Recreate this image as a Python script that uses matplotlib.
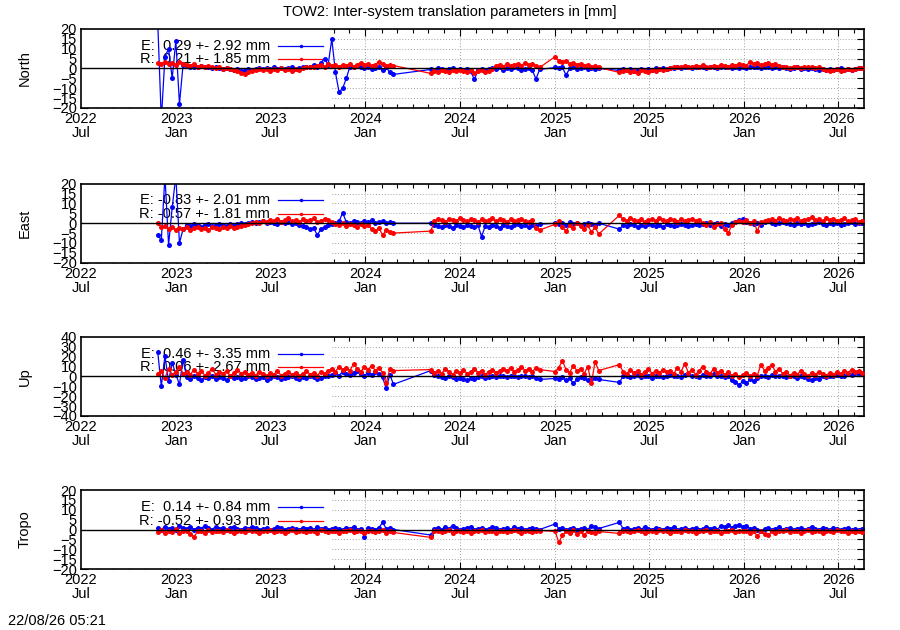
import numpy as np
import matplotlib
matplotlib.use('Agg')
import matplotlib.pyplot as plt
import matplotlib.dates as mdates
from matplotlib.patches import Rectangle

plt.rcParams['font.family'] = ['Liberation Sans', 'DejaVu Sans']
plt.rcParams['font.size'] = 10.5

# 1. Data: weekly readings per observation period (gnuplot joins across gaps)
period_starts = ['2022-11-26', '2024-05-06', '2025-01-01', '2025-05-05']
period_weeks = [66, 31, 13, 68]

north_e = [
    24, -26, 6, 10, -5, 14, -18, 2,
    1.5, 0.5, 1, 0.5, 1.5, 1, 0.5, 0,
    0.5, 0, -0.5, 0, -0.5, -1, -0.5,
    -1.5, -1, -0.5, -1, -0.5,
    0, -0.5, 0, -0.5, 0.5, -0.5, 0, -0.5, 0, 0.5, -0.5, 0, 0.5,
    1, 0.5, 2, 1, 3, 5, 2, 15, -2, -12,
    -10, -5, 1, 0.5, 1.5, 1, 0, 0.5, -0.5, 0, 1, -1, 0.5, -2, -3,
    # 2024 May - Dec
    -0.5, -1, 0, -0.5, -1, -0.5, 0, -1, -0.5,
    -1, -0.5, -1.5, -5.5, -1, -0.5, -1, -0.5, 0,
    -0.5, 0.5, -1, 0, -0.5, 0.5, 0, -1, -0.5, 0, -1, -5.3, -0.5,
    # 2025 Jan - Mar
    0.5, 0, 0.5, -3.3, 0, 0.5, -0.5, 0, 0.5, -0.5, 0, -0.5, 0,
    # 2025 May -
    -1, -0.5, -1, -0.5, -1.5, -1, -0.5, -1, -0.5, -1, 0, -0.5, 0, -0.5, 0,
    0, 0.5, 0, 1, 0.5, 0, 0.5, 1, 0.5, 0, 1, 0.5, 0, 0.5, 1, 0.5, 0, 0.5, 0, 0.5, 0,
    0.5, 1, 0.5, 0, 1, 0.5, 0, 0.5, 0,
    0.5, 0, -0.5, 0, 0.5, -0.5, 0, -0.5, 0, -0.5, -1,
    -0.5, -1, -0.5, -1, -0.5, 0, -1, -0.5, -1, -0.5, 0, 0,
]
north_r = [
    3, 2.5, 3.5, 2.5, 3, 2, 3.5, 2.5,
    2, 1.5, 2.5, 1, 1.5, 0.5, 1.5, 0.5,
    0, 0.5, -0.5, 0, -0.5, -1, -1.5,
    -2.5, -3, -2, -1.5, -1,
    -0.5, -1, -0.5, -1.5, -0.5, -1, 0, -1, -0.5, -1.5, -0.5, -1, 0,
    0.5, 1, 0.5, 1.5, 2, 1, 2.5, 1.5, 2, 1,
    2, 1.5, 2.5, 1, 2, 3, 2, 2.5, 1.5, 2, 3.5, 2.5, 1.5, 2, 1.5,
    -2.5, -1.5, -2, -1, -1.5, -2, -1, -1.5, -1,
    -1.5, -2, -1, -2.5, -1.5, -1, -2, -1.5, -0.5,
    1.5, 2, 1, 2.5, 1.5, 2, 2.5, 1.5, 3, 2, 2.5, 1.5, 0.5,
    6, 4, 3.5, 4, 2.5, 3, 2, 2.5, 1.5, 2, 1, 1.5, 0.5,
    -2, -1.5, -1, -2, -1.5, -2.5, -1, -1.5, -2, -1, -1.5, -0.5, -1, -0.5, 0,
    0.5, 1, 0.5, 1.5, 1, 0.5, 1.5, 1, 2, 1, 0.5, 1.5, 1, 2, 1.5, 1, 2, 1.5, 2.5, 2, 1.5,
    3.5, 2.5, 3, 2, 2.5, 3, 2, 2.5, 1.5,
    1, 0.5, 0, 1, 0.5, 0, 0.5, 1, 0.5, 0, 0.5,
    -0.5, -1, -1.5, -1, -0.5, -1.5, -1, -0.5, -1, -0.5, 0, 0,
]

east_e = [
    -6, -8.5, 24, -11, 8, 24, -10, -3,
    -1, -1.5, -0.5, -1, -2, -1, -0.5, -1.5, -1, -0.5, -1, -1.5, -0.5, -1, -0.5, 0, -0.5,
    0, 0.5, 0, 0.5, 1, 0, 0.5, 0, -0.5, 0.5, 0, 0.5, -0.5, 0, -1, -1.5,
    -2, -3, -2.5, -6, -3, -2, -1, -0.5,
    0, 1, 5.3, 0.5, 0, 1, 0.5, 0, 1, 0.5, 1.5, 0, 0.5, 1, 0, 0.5, 0,
    0, -1, -1.5, -2, -1, -1.5, -2.5, -1, -1.5, -2,
    -1, -1.5, -2, -1, -6.8, -1.5, -2, -1, -1.5, -2.5,
    -1, -1.5, -2, -1, -0.5, -1.5, -1, -2, -1, -1.5, -0.5,
    0, -0.5, 0, -1, 0.5, -0.5, 0, -1, -0.5, 0, -0.5, -1, 0,
    -3, -1, -1.5, -0.5, -1, -2, -1, -1.5, -0.5, -1, -1.5, -1, -2, -0.5, -1, -1.5, -1, -0.5, -1, -1.5, -1, -0.5, -1,
    -0.5, 0, -1, -0.5, 0, -1.5, -0.5, -1, 0, 0.5, 1.5, 2, 0.5, 0, -0.5, 0, -1, 0.5, 1, 0, -0.5, 0, 0.5,
    0, -0.5, -1, 0, -0.5, 0, -1, -0.5, 0, 0.5, -0.5, -1, 0, -0.5, 0, -1, -0.5, 0, 0.5, -0.5, 0, 0,
]
east_r = [
    0, -2,
    -1.5, -3, -2, -3.5, -2.5, -3, -2, -3.5, -2.5, -2, -3, -2.5, -3.5, -2, -2.5, -3, -2, -2.5, -1.5, -2.5, -2, -1.5, -1,
    -0.5, 0, 0.5, 0, 1, 0.5,
    1.5, 1, 2, 0.5, 1.5, 2.5, 1, 1.5, 0.5, 2, 1, 1.5, 2.5, 0.5, 1, 2, 1.5, 0.5,
    -0.5, -1, 0, -1.5, -0.5, -1, -2, -0.5, -1.5, -1,
    -3, -4, -2.5, -6, -3.5, -4.5, -5,
    -4, 1, 2, 1.5, 0.5, 2, 1.5, 1, 2.5, 1.5,
    1, 2, 1.5, 0.5, 2, 1, 1.5, 2.5, 1, 2,
    1.5, 0.5, 2, 1, 1.5, 2, 1, 0.5, 1.5, -2.5, -3.5,
    -0.5, 1, -2, -4, -1, -2.5, 0, -1.5, -3, -1, -4.5, -2, -5.5,
    4, 2, 1, 2.5, 1.5, 1, 2, 0.5, 1.5, 2, 1, 2.5, 1.5, 1, 2, 1.5, 0.5, 2, 1, 1.5, 2, 1, 1.5,
    0, -1, 0.5, -2, -0.5, 0, -3, -5, -1, 0.5,
    1, 0.5, 1.5, 0, 1, -4, 0.5, 1,
    1.5, 2, 1, 2.5, 1.5, 1, 2, 1.5, 2.5, 1, 1.5, 2, 3, 1.5, 2, 1, 2.5, 1.5, 2, 1, 1.5, 2.5, 1, 1.5, 2, 0.5, 1,
]

up_e = [
    25, -10, 21, -5, 14, 2, -8, 17,
    -1, -3, 0, -2, -4, -1, -2, 0, -3, -1, -2, -4, 0, -2, -1, -3, -2, 0, -1, -3,
    -2, -1, -4, -2, 0, -1, -3, -2, -1, 0, -2, -3, -1, -2, 0, -1, -3, -2, 1, 0,
    2, 4, 1, 5, 3, 2, 4, 6, 3, 1, 4, 2, 5, 3, -1, -12, 2, -8,
    6, 2, 0, -1, -2, 0, -1, -3, -2, -3,
    -4, -2, -3, -1, 0, -2, -1, 0, -1, 1,
    0, -1, 1, 0, -1, 0, 1, -1, 0, -2, -3,
    -2, -3, -1, -4, -2, -7, -3, -1, -2, -4, -3, -2, -3,
    -6, 0, 1, -1, 0, 2, -1, 1, 0, -2, 1, 0, -1, 1,
    2, 0, 1, -1, 2, 3, 0, 1, -1, 2, 0, 1, 3, 0, 1, -1, 0,
    -4, -6, -8.5, -5, -7, -3, -5, -2,
    0, 1, -1, 2, 0, 1,
    0, -1, 1, 0, -2, 0, -1, -3, -4, -2, -3, 0, -1, 1, 0, 2, 1, 0, 3, 2, 4, 3, 4,
]
up_r = [
    3, 6, -2, 8, 2, 5, 10, 3,
    5, 2, 7, 3, 6, 1, 4, 8, 2, 5, 3, 6, 0, 4, 7, 3, 5,
    2, 4, 1, 5, 3, 0, 4, 2, 6, 1, 3, 5, 2, 4, 0, 3, 6, 2, 4, 1, 5, 3, 6,
    8, 5, 10, 7, 9, 6, 13, 8, 5, 10, 7, 11, 6, 9, 4, -7, 8, 6,
    7, 4, 6, 3, 8, 5, 2, 6, 4, 7,
    3, 5, 8, 4, 6, 2, 5, 7, 4, 6,
    8, 6, 9, 5, 7, 10, 6, 8, 5, 9, 7,
    5, 9, 16, 7, 4, 11, 6, 8, 3, 10, -7, 15, 6,
    12, 5, 3, 7, 4, 6, 2, 5, 8, 3, 6, 4, 7, 5,
    6, 3, 9, 5, 13, 4, 7, 2, 6, 10, 5, 3, 8, 4, 6, 2, 5,
    1, 3, -1, 2, 4, 0, 3, 1,
    12, 6, 9, 12, 5, 8,
    3, 5, 1, 4, 2, 6, 3, 0, 4, 2, 5, 3, 1, 4, 2, 5, 3, 6, 4, 7, 5, 6, 4,
]

tropo_e = [
    1, 0, 1.5, 0.5, 1, 0, 2, 1,
    0.5, 1.5, 0, 1, 0.5, 2, 1, 0, 1.5, 0.5, 1, 0, 1, 1.5, 0.5, 0, 1,
    0.5, 1.5, 1, 0, 0.5, 1, 0, 0.5, 1.5, 1, 0, 0.5, 1, 0.5, 0, 1,
    0.5, 1, 0, 1.5, 0.5, 1, 0, 0.5, 1, 0.5, 0, 1, 0.5, 1.5, 0, 0.5, -4, 1, 0.5, 0, 1, 3.6, 0.5, 1, 0,
    -2.8, 0.5, 1, 0, 1.5, 0.5, 2, 1, 0, 0.5,
    1, 1.5, 0, 0.5, 1, 0, 0.5, 1.5, 1, 0,
    0.5, 1, 0, 1.5, 0.5, 1, 0, 0.5, 1, 0.5, 0,
    2.8, 0.5, 1, 0, 0.5, 1, 0, 0.5, 1, 0, 2, 1.2, 0.5,
    3.6, 0.5, 1, 0, 0.5, 1, 0, 1.5, 0.5, 0, 1, 0.5, 0, 1, 0.5, 1.5, 0, 0.5, 1, 0, 0.5, 1, 0, 0.5, 1.5, 0.5, 1, 0,
    2, 1.5, 2.5, 1, 2, 2.5, 1.5, 2,
    0.5, 1, 0, -1, 0.5, 1, 0, 0.5, 1.5, 0, 0.5, 1, 0, 0.5, 1, 0, 0.5, 1.5, 0.5, 0, 1, 0.5, 0, 1, 0.5, 0, 0.5, 1, 0, 0.5, 0, 0.5,
]
tropo_r = [
    -1.5, 0, -2, -0.5, -1.5, 0.5, -2, -1,
    -0.5, -2.5, -3.7, -1, -0.5, -2, 0, -1.5,
    -1, -0.5, -1.5, 0, -1, -2, -0.5, -1, -1.5, 0, -0.5, -1, -2, -0.5, -1, 0, -1.5, -1, -0.5, -2, -1, 0, -1.5, -0.5, -1,
    -1.5, -0.5, -1, -2, 0, -1, -1.5, -0.5, -1, -2, -0.5, -1, 0, -1.5, -1, -0.5, -2, -1, -0.5, -1.5, -1, 0, -2, -1, -1.5,
    -4, -1, -0.5, -1.5, -1, 0, -2, -1, -0.5, -1.5,
    -1, -2, -0.5, -1, 0, -1.5, -1, -0.5, -2, -1,
    -0.5, -1.5, -1, 0, -1, -2, -0.5, -1, -1.5, -1, -0.5,
    -1, -6.5, -3, -1, -2, 0, -2.5, -1, -3, -0.5, -1.5, -2, -1,
    -2, -1, -0.5, -1.5, -1, 0, -1, -2, -0.5, -1, -1.5, 0, -1, -0.5, -2, -1, -0.5, -1.5, 0, -1,
    -1, -2, -0.5, -1, 0, -1.5, -1, -0.5, -2, -1, -0.5, 0, -1.5, -1, -0.5, -1, -2, -0.5,
    -3.5, -1, -2.5, -3, -1, -2,
    -0.5, -1, 0, -1.5, -1, -0.5, -2, -1, 0, -1.5, -0.5, -1, -2, -0.5, -1, -1.5, 0, -1, -0.5, -2, -1, -1.5, -1, -1.5,
]

panel_names = ['North', 'East', 'Up', 'Tropo']
panel_e = [north_e, east_e, up_e, tropo_e]
panel_r = [north_r, east_r, up_r, tropo_r]
panel_ylim = [20, 20, 40, 20]
panel_ystep = [5, 5, 10, 5]
legend_e = ['E:  0.29 +- 2.92 mm', 'E: -0.83 +- 2.01 mm', 'E:  0.46 +- 3.35 mm', 'E:  0.14 +- 0.84 mm']
legend_r = ['R:  0.21 +- 1.85 mm', 'R: -0.57 +- 1.81 mm', 'R:  0.06 +- 2.67 mm', 'R: -0.52 +- 0.93 mm']

# 2. Dates
dates = np.concatenate([np.datetime64(s) + np.arange(n) * np.timedelta64(7, 'D')
                        for s, n in zip(period_starts, period_weeks)])
xmin, xmax = np.datetime64('2022-07-01'), np.datetime64('2026-08-20')

# 3. Figure
fig = plt.figure(figsize=(9, 6.3), dpi=100)
bottoms = [0.8286, 0.583, 0.3397, 0.0968]

for k in range(4):
    ax = fig.add_axes([0.09, bottoms[k], 0.87, 0.1254])
    ax.set_axisbelow(True)
    ax.grid(True, which='major', linestyle=(0, (1, 2)), color='#a0a0a0', lw=0.7)
    # key area hides the grid
    ax.add_patch(Rectangle((0, 0), 0.32, 1, transform=ax.transAxes,
                           facecolor='white', edgecolor='none', zorder=0.8))

    # key
    ax.text(0.2414, 0.79, legend_e[k], transform=ax.transAxes, ha='right', va='center', zorder=1.2)
    ax.text(0.2414, 0.614, legend_r[k], transform=ax.transAxes, ha='right', va='center', zorder=1.2)
    ax.plot([0.2516, 0.309], [0.79, 0.79], color='blue', lw=0.9, transform=ax.transAxes, zorder=1.3)
    ax.plot([0.2806], [0.79], 'o', color='blue', ms=2.5, mew=0, transform=ax.transAxes, zorder=1.3)
    ax.plot([0.2516, 0.309], [0.614, 0.614], color='red', lw=0.9, transform=ax.transAxes, zorder=1.3)
    ax.plot([0.2806], [0.614], 'o', color='red', ms=2.5, mew=0, transform=ax.transAxes, zorder=1.3)

    ax.plot(dates, panel_e[k], '-o', color='blue', lw=0.9, ms=3.6, mew=0, zorder=2)
    ax.plot(dates, panel_r[k], '-o', color='red', lw=0.9, ms=3.6, mew=0, zorder=3)
    ax.axhline(0, color='black', lw=1.0, zorder=5)

    lim = panel_ylim[k]
    ax.set_ylim(-lim, lim)
    ax.set_yticks(np.arange(-lim, lim + 1, panel_ystep[k]))
    ax.set_xlim(xmin, xmax)
    ax.xaxis.set_major_locator(mdates.MonthLocator(bymonth=[1, 7]))
    ax.xaxis.set_minor_locator(mdates.MonthLocator())
    ax.xaxis.set_major_formatter(mdates.DateFormatter('%Y\n%b'))
    ax.tick_params(which='both', direction='in', top=True, right=True, labelsize=10.5)
    ax.tick_params(which='major', length=5, width=0.8, pad=3)
    ax.tick_params(which='minor', length=3, width=0.8)
    for sp in ax.spines.values():
        sp.set_linewidth(1.2)
    ax.set_ylabel(panel_names[k], fontsize=10.5)
    ax.yaxis.set_label_coords(-0.0626, 0.5)

fig.text(0.5, 1 - 12 / 630, 'TOW2: Inter-system translation parameters in [mm]', ha='center', va='center', fontsize=10.5)
fig.text(8 / 900, 1 - 621 / 630, '22/08/26 05:21', ha='left', va='center', fontsize=10.5)

fig.canvas.draw()
for ax in fig.axes:
    for lab in ax.get_xticklabels():
        lab.set_linespacing(1.0)
fig.savefig('out.png', dpi=100)
